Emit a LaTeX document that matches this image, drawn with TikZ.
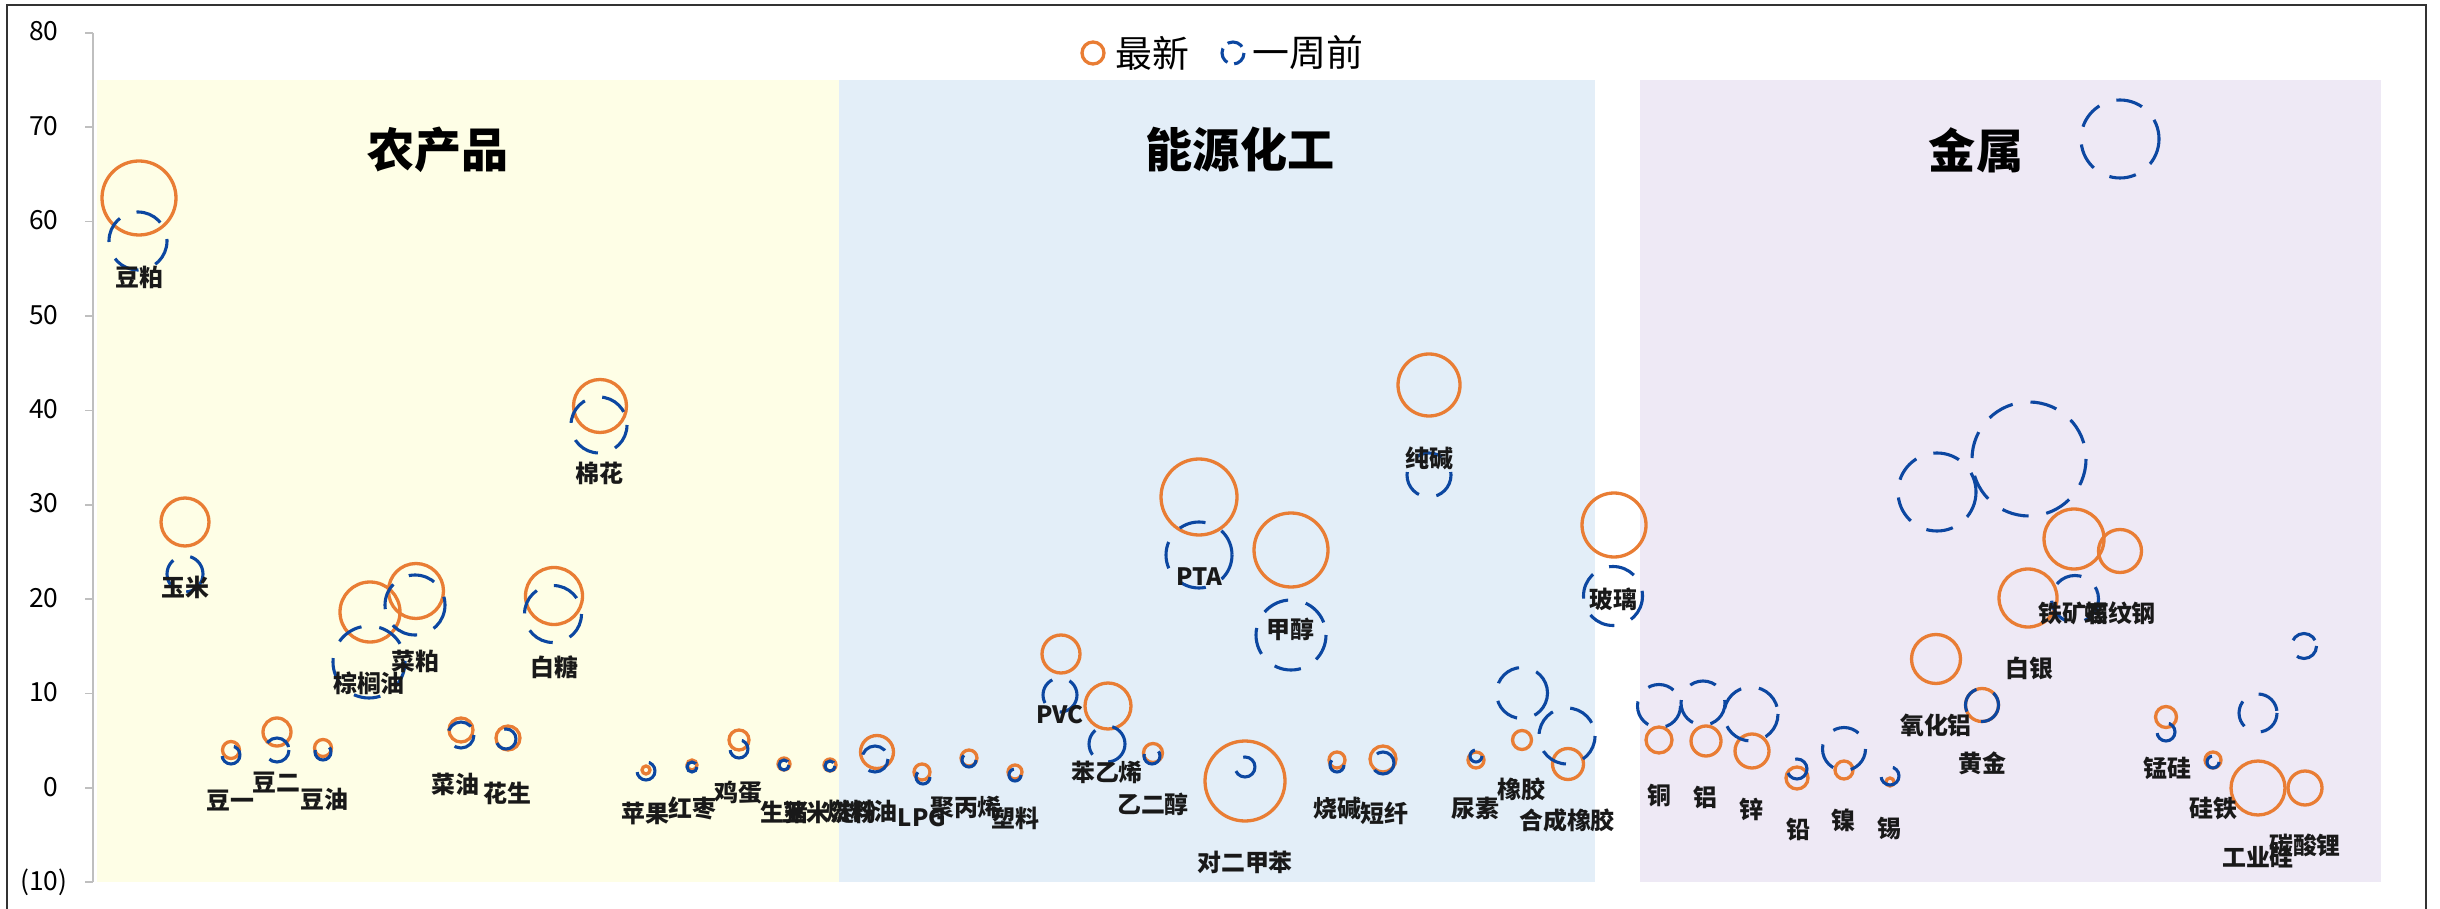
\documentclass[tikz,border=0pt]{standalone}
\usepackage{fontspec}
\newfontfamily\cjk{Noto Sans CJK SC}
\definecolor{newc}{RGB}{233,125,52}
\definecolor{oldc}{RGB}{12,71,161}
\definecolor{agri}{RGB}{254,254,230}
\definecolor{chem}{RGB}{227,238,248}
\definecolor{metal}{RGB}{238,233,245}
\definecolor{axisc}{RGB}{191,191,191}
\newcommand\labfont{\cjk\bfseries\fontsize{6.8pt}{7pt}\selectfont}
\tikzset{
  new/.style={draw=newc,line width=0.33mm},
  old/.style={draw=oldc,line width=0.31mm,dash pattern=on 2.7mm off 1.8mm},
  lab/.style={inner sep=0pt,text=black!90,font=\labfont},
  sector/.style={inner sep=0pt,font=\cjk\bfseries\fontsize{13.4pt}{14pt}\selectfont},
  legend/.style={inner sep=0pt,anchor=west,font=\cjk\fontsize{10.5pt}{11pt}\selectfont}
}
\begin{document}
\begin{tikzpicture}[x=0.1mm,y=-0.1mm]
\useasboundingbox (0,0) rectangle (2440,909);
% outer frame
\draw[line width=0.2mm,black!80] (7,909) -- (7,5) -- (2426,5) -- (2426,909);
% sector bands
\fill[agri] (97,80) rectangle (839,882);
\fill[chem] (839,80) rectangle (1595,882);
\fill[metal] (1640,80) rectangle (2381,882);
% y axis
\draw[axisc,line width=0.15mm] (93,33) -- (93,882);
\foreach \v in {80,70,...,0}{
  \draw[axisc,line width=0.15mm] (85,788-9.44*\v) -- (93,788-9.44*\v);
  \node (t\v) at (68,788-9.44*\v) [anchor=east,inner sep=0pt,font=\cjk\fontsize{7.5pt}{8pt}\selectfont] {\v\phantom{)}};
}
\draw[axisc,line width=0.15mm] (85,882) -- (93,882);
\node (tneg) at (68,882) [anchor=east,inner sep=0pt,font=\cjk\fontsize{7.5pt}{8pt}\selectfont] {(10)};
% legend
\draw[new] (1093,53) circle (11);
\node (lnew) at (1115,53) [legend] {最新};
\draw[old,dash pattern=on 1.6mm off 0.7mm] (1233,53) circle (11);
\node (lold) at (1252,53) [legend] {一周前};
% sector titles
\node (agri) at (438,150) [sector] {农产品};
\node (chem) at (1240,150) [sector] {能源化工};
\node (metal) at (1976,150) [sector] {金属};
% latest
\draw[new] (139,198) circle (37);
\draw[new] (185,522) circle (24);
\draw[new] (370,612) circle (30);
\draw[new] (416,591) circle (27.5);
\draw[new] (554,596) circle (28.5);
\draw[new] (600,406) circle (26.5);
\draw[new] (231,750) circle (8.5);
\draw[new] (277,732) circle (14);
\draw[new] (323,748) circle (8.5);
\draw[new] (461,730) circle (12);
\draw[new] (508,738) circle (12);
\draw[new] (646,770) circle (4);
\draw[new] (692,765) circle (5);
\draw[new] (739,740) circle (10);
\draw[new] (784,764) circle (6);
\draw[new] (830,765) circle (6);
\draw[new] (877,752) circle (16.5);
\draw[new] (922,772) circle (8);
\draw[new] (969,758) circle (8);
\draw[new] (1015,772) circle (7);
\draw[new] (1061,654) circle (19);
\draw[new] (1108,706) circle (23);
\draw[new] (1153,753) circle (9.5);
\draw[new] (1199,497) circle (38);
\draw[new] (1245,781) circle (40);
\draw[new] (1291,550) circle (37);
\draw[new] (1337,760) circle (8);
\draw[new] (1383,759) circle (13);
\draw[new] (1429,385) circle (31);
\draw[new] (1476,760) circle (8);
\draw[new] (1522,740) circle (9.5);
\draw[new] (1568,764) circle (15.5);
\draw[new] (1614,525) circle (32);
\draw[new] (1659,740) circle (13);
\draw[new] (1706,741) circle (15);
\draw[new] (1752,751) circle (17);
\draw[new] (1797,778) circle (11);
\draw[new] (1844,770) circle (9);
\draw[new] (1890,782) circle (4);
\draw[new] (1936,659) circle (24.5);
\draw[new] (1982,705) circle (16.5);
\draw[new] (2028,598) circle (29);
\draw[new] (2074,539) circle (30);
\draw[new] (2120,551) circle (21.5);
\draw[new] (2166,717) circle (10.5);
\draw[new] (2213,760) circle (8);
\draw[new] (2258,788) circle (27);
\draw[new] (2305,788) circle (17);
% one week ago
\draw[old] (138,241) circle (29);
\draw[old] (185,574) circle (18);
\draw[old] (369,662) circle (36);
\draw[old] (415,605) circle (30);
\draw[old] (553,614) circle (28.5);
\draw[old] (599,425) circle (28);
\draw[old] (231,755) circle (9);
\draw[old] (277,750) circle (12);
\draw[old] (323,752) circle (8);
\draw[old] (461,735) circle (13);
\draw[old] (506,739) circle (10);
\draw[old] (646,771) circle (9);
\draw[old] (692,767) circle (5);
\draw[old] (739,749) circle (9);
\draw[old] (784,765) circle (5);
\draw[old] (830,766) circle (5);
\draw[old] (875,759) circle (13);
\draw[old] (923,777) circle (7);
\draw[old] (969,760) circle (7);
\draw[old] (1015,775) circle (6);
\draw[old] (1060,695) circle (17);
\draw[old] (1107,744) circle (18);
\draw[old] (1152,756) circle (8);
\draw[old] (1199,555) circle (33);
\draw[old] (1245,767) circle (10);
\draw[old] (1291,635) circle (35);
\draw[old] (1337,765) circle (7);
\draw[old] (1383,763) circle (11);
\draw[old] (1429,475) circle (22);
\draw[old] (1476,756) circle (6);
\draw[old] (1522,693) circle (25.5);
\draw[old] (1567,736) circle (28);
\draw[old] (1613,596) circle (29.5);
\draw[old] (1659,706) circle (21.5);
\draw[old] (1703,703) circle (22);
\draw[old] (1751,714) circle (27);
\draw[old] (1797,769) circle (10);
\draw[old] (1844,749) circle (21.5);
\draw[old] (1890,776) circle (9);
\draw[old] (1937,492) circle (39);
\draw[old] (1982,705) circle (16.5);
\draw[old] (2029,459) circle (57);
\draw[old] (2075,599) circle (23.5);
\draw[old] (2120,139) circle (39);
\draw[old] (2166,732) circle (9);
\draw[old] (2213,762) circle (6);
\draw[old] (2258,713) circle (19);
\draw[old] (2304,646) circle (12.5);
% labels
\node (doupo) at (139,277) [lab] {豆粕};
\node (yumi) at (185,587) [lab] {玉米};
\node (zonglv) at (369,683) [lab] {棕榈油};
\node (caipo) at (415,661) [lab] {菜粕};
\node (baitang) at (554,667) [lab] {白糖};
\node (mianhua) at (599,473) [lab] {棉花};
\node (douyi) at (230,801) [lab] {豆一};
\node (douer) at (276,783) [lab] {豆二};
\node (douyou) at (324,799) [lab] {豆油};
\node (caiyou) at (455,784) [lab] {菜油};
\node (huasheng) at (507,793) [lab] {花生};
\node (pingguo) at (645,813) [lab] {苹果};
\node (hongzao) at (692,808) [lab] {红枣};
\node (jidan) at (738,793) [lab] {鸡蛋};
\node (shengzhu) at (784,812) [lab] {生猪};
\node (dianfen) at (830,812) [lab] {玉米淀粉};
\node (ranliao) at (862,811) [lab] {燃料油};
\node (lpg) at (922,818) [lab] {LPG};
\node (jubing) at (966,807) [lab] {聚丙烯};
\node (suliao) at (1015,818) [lab] {塑料};
\node (pvc) at (1060,715) [lab] {PVC};
\node (benyx) at (1107,772) [lab] {苯乙烯};
\node (yiec) at (1153,804) [lab] {乙二醇};
\node (pta) at (1199,577) [lab] {PTA};
\node (px) at (1245,862) [lab] {对二甲苯};
\node (jiachun) at (1290,629) [lab] {甲醇};
\node (shaojian) at (1337,808) [lab] {烧碱};
\node (duanxian) at (1384,813) [lab] {短纤};
\node (chunjian) at (1429,458) [lab] {纯碱};
\node (niaosu) at (1475,808) [lab] {尿素};
\node (xiangjiao) at (1521,789) [lab] {橡胶};
\node (hcxj) at (1567,820) [lab] {合成橡胶};
\node (boli) at (1613,599) [lab] {玻璃};
\node (tong) at (1659,795) [lab] {铜};
\node (lv) at (1705,797) [lab] {铝};
\node (xin) at (1751,809) [lab] {锌};
\node (qian) at (1798,830) [lab] {铅};
\node (nie) at (1843,820) [lab] {镍};
\node (xi) at (1889,828) [lab] {锡};
\node (yhl) at (1936,725) [lab] {氧化铝};
\node (huangjin) at (1982,763) [lab] {黄金};
\node (baiyin) at (2029,668) [lab] {白银};
\node (tiekuang) at (2074,613) [lab] {铁矿石};
\node (luowen) at (2120,613) [lab] {螺纹钢};
\node (mengsi) at (2167,768) [lab] {锰硅};
\node (guitie) at (2213,809) [lab] {硅铁};
\node (gyg) at (2258,857) [lab] {工业硅};
\node (tsl) at (2305,845) [lab] {碳酸锂};
\end{tikzpicture}
\end{document}
